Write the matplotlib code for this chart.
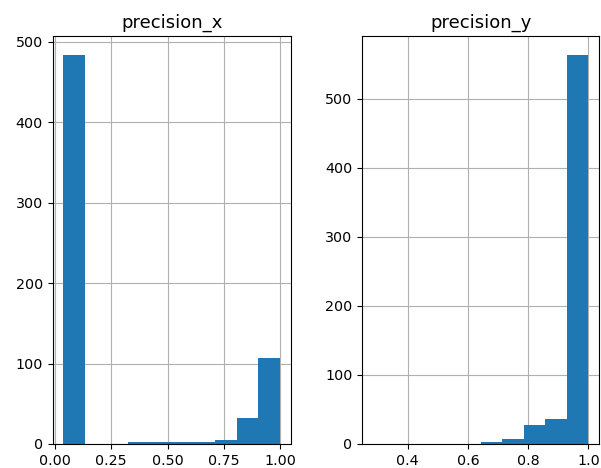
import numpy as np
import matplotlib
matplotlib.use("Agg")
import matplotlib.pyplot as plt

# Histogram data (10 bins each, pandas-style)
titles = ["precision_x", "precision_y"]
x_range_x = [0.037, 1.0]
counts_x = [483, 0, 0, 2, 2, 2, 3, 5, 32, 107]
x_range_y = [0.285, 1.0]
counts_y = [0, 0, 0, 0, 0, 3, 7, 28, 36, 563]

fig = plt.figure(figsize=(6.01, 4.68), dpi=100)
ax1 = fig.add_axes([0.0874, 0.0513, 0.3965, 0.8718])
ax2 = fig.add_axes([0.6028, 0.0513, 0.3943, 0.8718])

for ax, rng, counts, title in [(ax1, x_range_x, counts_x, titles[0]),
                               (ax2, x_range_y, counts_y, titles[1])]:
    edges = np.linspace(rng[0], rng[1], len(counts) + 1)
    centers = (edges[:-1] + edges[1:]) / 2
    ax.hist(centers, bins=edges, weights=counts, color="#1f77b4")
    ax.set_title(title, fontsize=13)
    ax.grid(True)
    ax.set_axisbelow(True)
    ax.tick_params(labelsize=10.3)

ax1.set_xticks([0.0, 0.25, 0.5, 0.75, 1.0])
ax1.set_xticklabels(["0.00", "0.25", "0.50", "0.75", "1.00"])
ax1.set_yticks([0, 100, 200, 300, 400, 500])
ax2.set_xticks([0.4, 0.6, 0.8, 1.0])
ax2.set_yticks([0, 100, 200, 300, 400, 500])

fig.savefig("out.png", dpi=100)
